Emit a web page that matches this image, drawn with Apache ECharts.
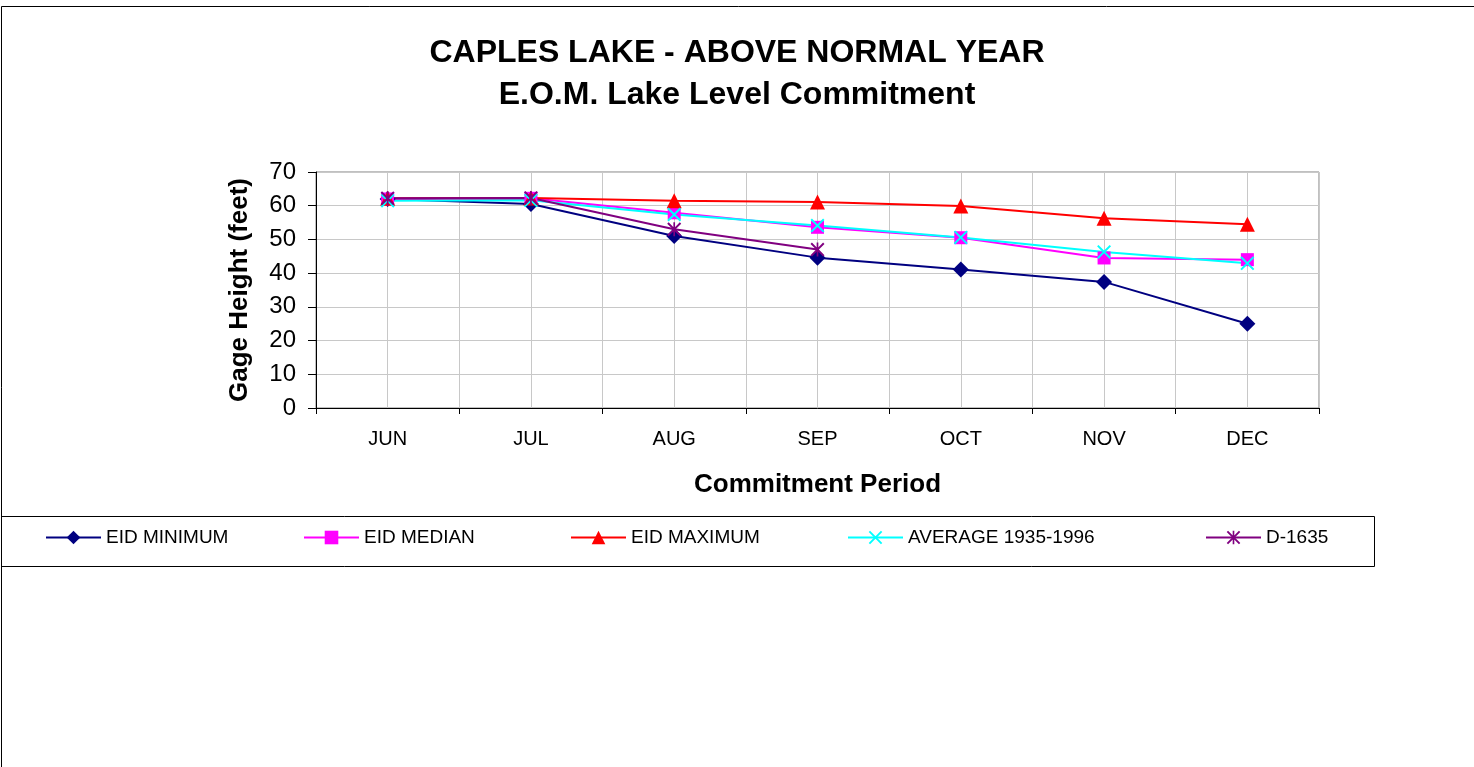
<!DOCTYPE html>
<html>
<head>
<meta charset="utf-8">
<title>Caples Lake - Above Normal Year</title>
<script src="https://cdn.jsdelivr.net/npm/echarts@6/dist/echarts.min.js"></script>
<style>
  html, body { margin: 0; padding: 0; background: #fff; }
  #chart { width: 1474px; height: 767px; }
</style>
</head>
<body>
<div id="chart"></div>
<script>
// data (feet)
var months = ['JUN', 'JUL', 'AUG', 'SEP', 'OCT', 'NOV', 'DEC'];
var eidMinimum = [62.0, 60.5, 51.0, 44.6, 41.1, 37.4, 25.0];
var eidMedian = [62.0, 62.2, 57.9, 53.6, 50.5, 44.5, 44.0];
var eidMaximum = [62.2, 62.3, 61.5, 61.1, 59.9, 56.3, 54.5];
var average = [61.5, 61.6, 57.4, 54.1, 50.6, 46.3, 42.9];
var d1635 = [62.2, 62.3, 53.0, 47.0, null, null, null];
var yTicks = [0, 10, 20, 30, 40, 50, 60, 70];

var crossPath = 'path://M0,1 L1,0 L5,4 L9,0 L10,1 L6,5 L10,9 L9,10 L5,6 L1,10 L0,9 L4,5 Z';
var starPath = 'path://M0,1 L1,0 L5,4 L9,0 L10,1 L6,5 L10,9 L9,10 L5,6 L1,10 L0,9 L4,5 Z M4.4,0 L5.6,0 L5.6,10 L4.4,10 Z';

var chart = echarts.init(document.getElementById('chart'));

function lineSeries(name, data, color, symbol, size) {
    return {
        name: name,
        type: 'line',
        data: data,
        xAxisIndex: 0,
        symbol: symbol,
        symbolSize: size,
        showAllSymbol: true,
        connectNulls: false,
        lineStyle: { color: color, width: 2 },
        itemStyle: { color: color },
        emphasis: { disabled: true },
        animation: false
    };
}

var legendFont = { fontFamily: 'Liberation Sans', fontSize: 19, color: '#000' };
function legendAt(name, left) {
    return {
        data: [name],
        left: left,
        top: 528,
        padding: 0,
        itemWidth: 55,
        itemHeight: 17,
        itemGap: 5,
        textStyle: legendFont,
        selectedMode: false
    };
}

var option = {
    backgroundColor: '#fff',
    animation: false,
    title: {
        text: 'CAPLES LAKE - ABOVE NORMAL YEAR\nE.O.M. Lake Level Commitment',
        left: 'center',
        top: 27,
        textStyle: {
            fontFamily: 'Liberation Sans',
            fontWeight: 'bold',
            fontSize: 32,
            lineHeight: 42,
            color: '#000'
        }
    },
    legend: [
        legendAt('EID MINIMUM', 45),
        legendAt('EID MEDIAN', 303),
        legendAt('EID MAXIMUM', 570),
        legendAt('AVERAGE 1935-1996', 847),
        legendAt('D-1635', 1205)
    ],
    grid: {
        left: 316,
        top: 172,
        width: 1003,
        height: 236,
        show: true,
        borderColor: '#808080',
        borderWidth: 1
    },
    xAxis: [{
        type: 'category',
        data: months,
        boundaryGap: true,
        name: 'Commitment Period',
        nameLocation: 'middle',
        nameGap: 64,
        nameTextStyle: { fontFamily: 'Liberation Sans', fontWeight: 'bold', fontSize: 26, color: '#000' },
        axisLine: { lineStyle: { color: '#000', width: 1 } },
        axisTick: { show: true, length: 6, lineStyle: { color: '#000' } },
        axisLabel: { fontFamily: 'Liberation Sans', fontSize: 20, color: '#000', margin: 21 },
        splitLine: { show: false }
    }, {
        // only draws the vertical grid at category centres and boundaries
        type: 'value',
        position: 'bottom',
        min: -0.5,
        max: 6.5,
        interval: 0.5,
        axisLine: { show: false },
        axisTick: { show: false },
        axisLabel: { show: false },
        splitLine: { show: true, lineStyle: { color: '#c8c8c8', width: 1 } }
    }],
    yAxis: {
        type: 'value',
        min: yTicks[0],
        max: yTicks[yTicks.length - 1],
        interval: 10,
        name: 'Gage Height (feet)',
        nameLocation: 'middle',
        nameGap: 63,
        nameTextStyle: { fontFamily: 'Liberation Sans', fontWeight: 'bold', fontSize: 26, color: '#000' },
        axisLine: { show: true, onZero: false, lineStyle: { color: '#000', width: 1 } },
        axisTick: { show: true, length: 8, lineStyle: { color: '#000' } },
        axisLabel: { fontFamily: 'Liberation Sans', fontSize: 24, color: '#000', margin: 20 },
        splitLine: { show: true, lineStyle: { color: '#c8c8c8', width: 1 } }
    },
    series: [
        lineSeries('EID MINIMUM', eidMinimum, '#000080', 'diamond', 16),
        lineSeries('EID MEDIAN', eidMedian, '#ff00ff', 'rect', 13),
        lineSeries('EID MAXIMUM', eidMaximum, '#ff0000', 'triangle', 15),
        lineSeries('AVERAGE 1935-1996', average, '#00ffff', crossPath, 14),
        lineSeries('D-1635', d1635, '#800080', starPath, 14)
    ],
    graphic: [{
        type: 'rect',
        shape: { x: 1.5, y: 6.5, width: 1500, height: 800 },
        style: { fill: 'none', stroke: '#000', lineWidth: 1 },
        silent: true,
        z: -1
    }, {
        type: 'rect',
        shape: { x: 1.5, y: 516.5, width: 1373, height: 50 },
        style: { fill: 'none', stroke: '#000', lineWidth: 1 },
        silent: true,
        z: -1
    }]
};

chart.setOption(option);
</script>
</body>
</html>
